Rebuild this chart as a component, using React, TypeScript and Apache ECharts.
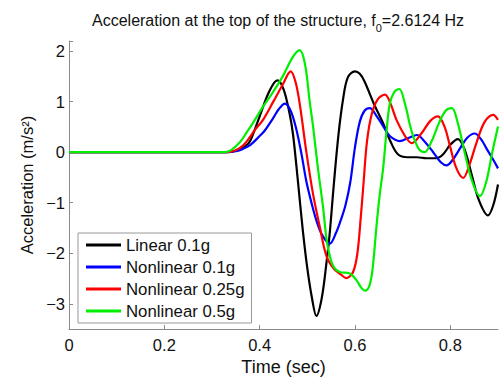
import React, { useEffect, useRef } from "react";
import * as echarts from "echarts";

// Linear 0.1g
const linearT = [0, 0.33, 0.35, 0.37, 0.38, 0.40, 0.42, 0.437, 0.45, 0.463, 0.47, 0.48, 0.49, 0.50, 0.51, 0.519, 0.53, 0.54, 0.547, 0.555, 0.565, 0.575, 0.585, 0.60, 0.61, 0.62, 0.64, 0.66, 0.675, 0.69, 0.71, 0.73, 0.75, 0.77, 0.785, 0.80, 0.816, 0.83, 0.845, 0.86, 0.879, 0.89, 0.90];
const linearV = [0, 0, 0.03, 0.12, 0.22, 0.71, 1.2, 1.42, 1.25, 0.75, 0.35, -0.55, -1.5, -2.3, -2.9, -3.24, -2.9, -2.2, -1.6, -0.7, 0.32, 1.05, 1.48, 1.6, 1.55, 1.4, 0.95, 0.55, 0.2, -0.04, -0.1, -0.1, -0.12, -0.12, -0.04, 0.15, 0.26, 0.05, -0.45, -0.95, -1.25, -1.05, -0.64];

// Nonlinear 0.1g
const nl01T = [0, 0.33, 0.35, 0.365, 0.38, 0.40, 0.41, 0.428, 0.44, 0.453, 0.465, 0.477, 0.488, 0.498, 0.51, 0.519, 0.53, 0.547, 0.56, 0.57, 0.58, 0.59, 0.60, 0.61, 0.62, 0.631, 0.645, 0.66, 0.673, 0.694, 0.712, 0.73, 0.745, 0.764, 0.78, 0.792, 0.805, 0.82, 0.835, 0.851, 0.865, 0.876, 0.89, 0.90];
const nl01V = [0, 0, 0.02, 0.065, 0.14, 0.32, 0.42, 0.67, 0.85, 0.96, 0.82, 0.45, -0.05, -0.58, -1.05, -1.35, -1.62, -1.81, -1.6, -1.35, -1.05, -0.6, 0.1, 0.6, 0.82, 0.87, 0.72, 0.5, 0.32, 0.22, 0.28, 0.34, 0.22, 0.0, -0.2, -0.26, -0.15, 0.07, 0.28, 0.37, 0.25, 0.07, -0.15, -0.32];

// Nonlinear 0.25g
const nl025T = [0, 0.33, 0.35, 0.365, 0.379, 0.39, 0.407, 0.428, 0.449, 0.465, 0.475, 0.484, 0.498, 0.512, 0.526, 0.54, 0.555, 0.568, 0.582, 0.596, 0.605, 0.612, 0.618, 0.625, 0.635, 0.648, 0.663, 0.675, 0.687, 0.705, 0.719, 0.74, 0.758, 0.774, 0.788, 0.799, 0.812, 0.827, 0.84, 0.855, 0.872, 0.89, 0.90];
const nl025V = [0, 0, 0.04, 0.13, 0.29, 0.44, 0.64, 0.99, 1.35, 1.6, 1.4, 0.96, 0.0, -0.83, -1.47, -2.05, -2.3, -2.4, -2.49, -2.37, -2.0, -1.3, -0.6, 0.2, 0.75, 1.05, 1.14, 0.95, 0.64, 0.32, 0.18, 0.38, 0.62, 0.71, 0.5, 0.13, -0.3, -0.51, -0.25, 0.19, 0.6, 0.74, 0.64];

// Nonlinear 0.5g
const nl05T = [0, 0.325, 0.34, 0.358, 0.372, 0.386, 0.407, 0.428, 0.449, 0.47, 0.484, 0.495, 0.505, 0.512, 0.522, 0.533, 0.54, 0.547, 0.556, 0.568, 0.589, 0.603, 0.613, 0.621, 0.63, 0.637, 0.645, 0.652, 0.659, 0.666, 0.673, 0.683, 0.693, 0.705, 0.715, 0.722, 0.735, 0.746, 0.76, 0.775, 0.79, 0.803, 0.815, 0.83, 0.845, 0.862, 0.875, 0.888, 0.90];
const nl05V = [0, 0, 0.04, 0.19, 0.38, 0.58, 0.9, 1.19, 1.51, 1.89, 2.02, 1.75, 1.0, 0.51, -0.3, -1.09, -1.7, -2.05, -2.28, -2.37, -2.4, -2.53, -2.68, -2.74, -2.65, -2.3, -1.47, -0.83, -0.32, 0.4, 0.96, 1.2, 1.25, 0.95, 0.55, 0.32, 0.05, 0.0, 0.2, 0.55, 0.82, 0.87, 0.6, 0.0, -0.55, -0.87, -0.6, 0.0, 0.51];

const seriesNames = ["Linear 0.1g", "Nonlinear 0.1g", "Nonlinear 0.25g", "Nonlinear 0.5g"];
const seriesColors = ["#000000", "#0000ff", "#ff0000", "#00ee00"];
const seriesT = [linearT, nl01T, nl025T, nl05T];
const seriesV = [linearV, nl01V, nl025V, nl05V];

const FONT = "'Liberation Sans', Arial, sans-serif";

export default function App() {
  const ref = useRef<HTMLDivElement>(null);
  useEffect(() => {
    if (!ref.current) return;
    const chart = echarts.init(ref.current, undefined, { renderer: "svg" });
    const axisColor = "#8a8a8a";
    chart.setOption({
      animation: false,
      backgroundColor: "#ffffff",
      textStyle: { fontFamily: FONT },
      title: {
        text: "{a|Acceleration at the top of the structure, f}{s|0}{a|=2.6124 Hz}",
        left: 87,
        top: 2,
        textStyle: {
          fontWeight: "normal",
          rich: {
            a: { fontSize: 16, fontFamily: FONT, fontWeight: "normal", color: "#111", lineHeight: 26, verticalAlign: "middle" },
            s: { fontSize: 11, fontFamily: FONT, fontWeight: "normal", color: "#111", lineHeight: 10, verticalAlign: "bottom" },
          },
        },
      },
      grid: { left: 69, right: 2, top: 41, bottom: 44, containLabel: false },
      legend: {
        orient: "vertical",
        left: 78,
        top: 233,
        data: seriesNames,
        icon: "rect",
        itemWidth: 35,
        itemHeight: 3,
        itemGap: 4,
        padding: [3, 7, 3, 8],
        borderColor: "#999",
        borderWidth: 1,
        backgroundColor: "#ffffff",
        textStyle: { fontSize: 16.8, fontFamily: FONT, color: "#111", lineHeight: 18 },
      },
      xAxis: {
        type: "value",
        min: 0,
        max: 0.9,
        interval: 0.2,
        name: "Time (sec)",
        nameLocation: "middle",
        nameGap: 24,
        nameTextStyle: { fontSize: 18, fontFamily: FONT, color: "#111" },
        axisLine: { show: true, onZero: false, lineStyle: { color: axisColor, width: 1 } },
        axisTick: { show: true, inside: true, length: 4, lineStyle: { color: axisColor } },
        axisLabel: {
          fontSize: 16.5,
          fontFamily: FONT,
          color: "#111",
          margin: 7,
          showMaxLabel: false,
          formatter: (v: number) => (Math.abs(v * 5 - Math.round(v * 5)) < 1e-6 ? String(Math.round(v * 10) / 10) : ""),
        },
        splitLine: { show: false },
      },
      yAxis: {
        type: "value",
        min: -3.5,
        max: 2.2,
        name: "Acceleration (m/s²)",
        nameLocation: "middle",
        nameGap: 30,
        nameTextStyle: { fontSize: 16.5, fontFamily: FONT, color: "#111" },
        axisLine: { show: true, onZero: false, lineStyle: { color: axisColor, width: 1 } },
        axisTick: { show: true, inside: true, length: 4, lineStyle: { color: axisColor } },
        axisLabel: {
          fontSize: 16.5,
          fontFamily: FONT,
          color: "#111",
          margin: 4,
          formatter: (v: number) => {
            if (Math.abs(v - Math.round(v)) > 1e-6) return "";
            const r = Math.round(v);
            return r < 0 ? "\u2212" + String(-r) : String(r);
          },
        },
        splitLine: { show: false },
      },
      series: seriesNames.map((name, i) => ({
        name,
        type: "line",
        data: seriesT[i].map((t, j) => [t, seriesV[i][j]]),
        showSymbol: false,
        smooth: 0.35,
        clip: true,
        color: seriesColors[i],
        lineStyle: { width: 2.2, color: seriesColors[i] },
        z: 2 + i,
      })),
    });
    return () => chart.dispose();
  }, []);
  return <div ref={ref} style={{ position: "fixed", left: 0, top: 0, width: 500, height: 381 }} />;
}
